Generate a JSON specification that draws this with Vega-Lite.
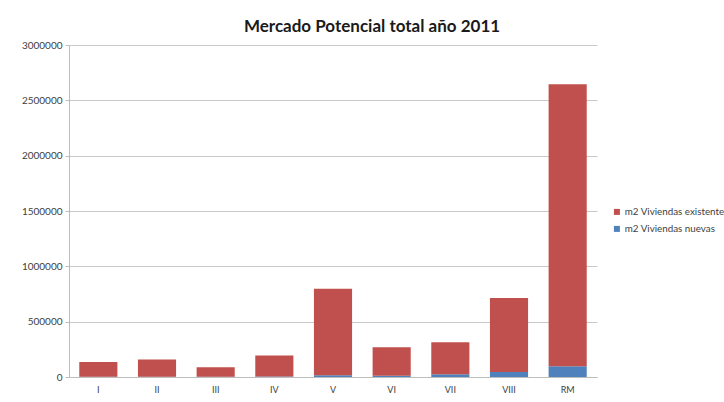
{
  "$schema": "https://vega.github.io/schema/vega-lite/v6.json",
  "width": 528,
  "height": 332,
  "autosize": {"type": "none"},
  "padding": {"left": 69, "top": 45, "right": 127, "bottom": 25},
  "background": "white",
  "title": {
    "text": "Mercado Potencial total año 2011",
    "font": "Lato",
    "fontSize": 17,
    "fontWeight": "bold",
    "color": "#1a1a1a",
    "anchor": "middle",
    "dx": 39,
    "offset": 4
  },
  "data": {
    "values": [
      {"region": "I", "serie": "m2 Viviendas nuevas", "valor": 3000},
      {"region": "I", "serie": "m2 Viviendas existente", "valor": 133000},
      {"region": "II", "serie": "m2 Viviendas nuevas", "valor": 3000},
      {"region": "II", "serie": "m2 Viviendas existente", "valor": 155000},
      {"region": "III", "serie": "m2 Viviendas nuevas", "valor": 2000},
      {"region": "III", "serie": "m2 Viviendas existente", "valor": 86000},
      {"region": "IV", "serie": "m2 Viviendas nuevas", "valor": 4000},
      {"region": "IV", "serie": "m2 Viviendas existente", "valor": 190000},
      {"region": "V", "serie": "m2 Viviendas nuevas", "valor": 15000},
      {"region": "V", "serie": "m2 Viviendas existente", "valor": 782000},
      {"region": "VI", "serie": "m2 Viviendas nuevas", "valor": 12000},
      {"region": "VI", "serie": "m2 Viviendas existente", "valor": 256000},
      {"region": "VII", "serie": "m2 Viviendas nuevas", "valor": 25000},
      {"region": "VII", "serie": "m2 Viviendas existente", "valor": 288000},
      {"region": "VIII", "serie": "m2 Viviendas nuevas", "valor": 45000},
      {"region": "VIII", "serie": "m2 Viviendas existente", "valor": 668000},
      {"region": "RM", "serie": "m2 Viviendas nuevas", "valor": 97000},
      {"region": "RM", "serie": "m2 Viviendas existente", "valor": 2548000}
    ]
  },
  "mark": {"type": "bar"},
  "encoding": {
    "x": {
      "field": "region",
      "type": "nominal",
      "sort": null,
      "scale": {"paddingInner": 0.35, "paddingOuter": 0.175},
      "axis": {
        "title": null,
        "labelAngle": 0,
        "labelFont": "Lato",
        "labelFontSize": 9,
        "labelColor": "#404040",
        "labelPadding": 8,
        "ticks": false,
        "domainColor": "#bdbdbd",
        "grid": false
      }
    },
    "y": {
      "field": "valor",
      "type": "quantitative",
      "aggregate": "sum",
      "stack": "zero",
      "scale": {"domain": [0, 3000000], "nice": false},
      "axis": {
        "title": null,
        "values": [0, 500000, 1000000, 1500000, 2000000, 2500000, 3000000],
        "format": "d",
        "labelFont": "Lato",
        "labelFontSize": 10,
        "labelColor": "#404040",
        "labelPadding": 3,
        "tickSize": 4,
        "tickColor": "#bdbdbd",
        "domainColor": "#bdbdbd",
        "gridColor": "#c8c8c8",
        "gridWidth": 1
      }
    },
    "color": {
      "field": "serie",
      "type": "nominal",
      "scale": {
        "domain": ["m2 Viviendas existente", "m2 Viviendas nuevas"],
        "range": ["#C0504D", "#4F81BD"]
      },
      "legend": {
        "title": null,
        "orient": "none",
        "legendX": 543,
        "legendY": 162,
        "symbolType": "square",
        "symbolSize": 36,
        "symbolStrokeWidth": 0,
        "labelFont": "Lato",
        "labelFontSize": 9.8,
        "labelColor": "#404040",
        "labelOffset": 3,
        "rowPadding": 6,
        "labelLimit": 200
      }
    },
    "order": {"field": "serie", "sort": "descending"}
  },
  "config": {
    "view": {"stroke": null}
  }
}
